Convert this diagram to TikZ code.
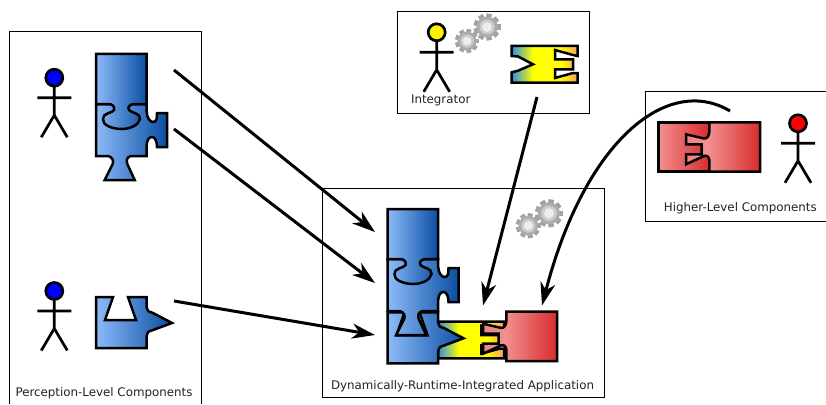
\documentclass[tikz,border=0pt]{standalone}
\usepackage{fontspec}
\setmainfont{DejaVu Sans}
\usetikzlibrary{arrows.meta}
\definecolor{blA}{HTML}{8CBAF8}
\definecolor{blB}{HTML}{0A4EA2}
\definecolor{yeA}{HTML}{2F8EE0}
\definecolor{yeB}{HTML}{FFFF00}
\definecolor{yeC}{HTML}{FAA060}
\definecolor{reA}{HTML}{F29090}
\definecolor{reB}{HTML}{D82C2C}
\definecolor{reE}{HTML}{EE8484}
\definecolor{txt}{HTML}{222222}
\definecolor{gearT}{HTML}{A2A2A2}
\definecolor{gearM}{HTML}{ACACAC}
\definecolor{gearR}{HTML}{CCCCCC}
\definecolor{gearH}{HTML}{EEEEEE}
\pgfdeclarehorizontalshading{bluegrad}{100bp}{color(0bp)=(blA);color(25bp)=(blA);color(75bp)=(blB);color(100bp)=(blB)}
\pgfdeclarehorizontalshading{yelgrad}{100bp}{color(0bp)=(yeA);color(25bp)=(yeA);color(41bp)=(yeB);color(62bp)=(yeB);color(75bp)=(yeC);color(100bp)=(yeC)}
\pgfdeclarehorizontalshading{redgrad}{100bp}{color(0bp)=(reA);color(25bp)=(reA);color(75bp)=(reB);color(100bp)=(reB)}
\pgfdeclarehorizontalshading{redtabgrad}{100bp}{color(0bp)=(reE);color(25bp)=(reE);color(40bp)=(reA);color(75bp)=(reB);color(100bp)=(reB)}
\tikzset{
  piece/.style={draw=black,line width=2.5pt,line join=miter},
  framebox/.style={draw=black,line width=0.9pt,fill=none},
  conn/.style={draw=black,line width=3pt,-{Stealth[length=23pt,width=15pt,inset=7pt]}},
  label/.style={text=txt,font=\fontsize{11.85}{14}\selectfont,inner sep=0pt,anchor=base},
  figline/.style={draw=black,line width=2.7pt},
}
\newcommand\bluetop[1]{\shadedraw[piece,shading=bluegrad,#1] (96,54)--(146.7,54)--(146.7,104)--(135,104)
  .. controls (130,104) and (127,107) .. (129,110) .. controls (131,113) and (141,113) .. (140,119)
  .. controls (139,125) and (130,129) .. (122,129) .. controls (112,129) and (102,125) .. (103,119)
  .. controls (102,113) and (113,113) .. (114,110) .. controls (115,106) and (112,104) .. (108,104)
  --(96,104)--cycle;}
\newcommand\bluemid[1]{\shadedraw[piece,shading=bluegrad,#1] (96,104)--(146.7,104)--(146.7,112)
  .. controls (147,118) and (150,122) .. (153,122) .. controls (157,122) and (157,118) .. (157,113)
  --(167,113)--(167,147)--(157,147) .. controls (157,141) and (155,137) .. (152,137)
  .. controls (149,137) and (147,140) .. (146.7,145)--(146.7,156)--(131,156)
  .. controls (127,157) and (126,160) .. (127.3,164)--(134.7,180)--(104.7,180)--(112.7,164)
  .. controls (114,160) and (112,157) .. (108,156)--(96,156)--cycle;}
\newcommand\bluelow[1]{\shadedraw[piece,shading=bluegrad,#1] (96,297)--(113,297)--(105,320)--(136,320)--(128,297)
  --(146.7,297)--(146.7,307) .. controls (147,311) and (150,313) .. (153,313)--(172,323)--(153,330)
  .. controls (150,330) and (147,332) .. (146.7,336)--(146.7,348)--(96,348)--cycle;}
\newcommand\yelright{--(577.7,46)--(577.7,56)--(573,55)--(555,50)--(555,59.3)--(573,59.3)--(573,69.3)--(555,69.3)--(555,78)--(573,73)--(577.7,73)--(577.7,82.7)--(511.7,82.7)}
\newcommand\redleft[1]{\shadedraw[piece,shading=redgrad,#1] (658.3,122.3) rectangle (709.3,171.7);}
\newcommand\redright[1]{\shadedraw[piece,shading=redtabgrad,#1] (709.3,122.3)--(760,122.3)--(760,171.7)--(709.3,171.7)--(709.3,160)
  .. controls (709,157) and (707,155) .. (704,156)--(686,164.3)--(686,154.3)--(701.7,154.3)--(701.7,144.3)--(686,144.3)--(686,134.3)--(704,138.5)
  .. controls (707,139) and (709,136) .. (709.3,132)--cycle;}
\newcommand\stickfig[3]{\begin{scope}[shift={(#1,#2)}]
  \draw[figline] (0,8.5)--(0,37.5) (-17,20)--(17,20) (-13,59.5)--(0,37.5)--(13,59.5);
  \draw[figline,fill=#3] (0,0) circle[radius=8.5pt];
\end{scope}}
\newcommand\gearshape[3]{\begin{scope}[shift={(#1,#2)}]
  \foreach \a in {0,40,...,320}{\fill[rotate=\a+10,gearT] (-0.2*#3,0) rectangle (0.2*#3,#3);}
  \fill[gearM] (0,0) circle[radius=0.78*#3 pt];
  \fill[gearR] (0,0) circle[radius=0.56*#3 pt];
  \fill[gearH] (0,0) circle[radius=0.36*#3 pt];
\end{scope}}
\begin{document}
\begin{tikzpicture}[x=1pt,y=-1pt]
\useasboundingbox (0,0) rectangle (826,404);
% frames
\draw[framebox] (9,404)--(9,31)--(201,31)--(201,404);
\draw[framebox] (826,91.7)--(645,91.7)--(645,221)--(826,221);
\draw[framebox] (397.7,11.7) rectangle (589,113.3);
\draw[framebox] (322,188) rectangle (604,397);
% perception level
\stickfig{54.3}{77.7}{blue}
\stickfig{54.3}{291}{blue}
\bluemid{}
\bluetop{}
\bluelow{}
% integrator
\stickfig{436.7}{32.3}{yellow}
\gearshape{467}{41}{12}
\gearshape{487}{27}{13.5}
\shadedraw[piece,shading=yelgrad] (511.7,46)\yelright--(511.7,72.3)--(518,70.7)--(533,64.3)--(518,56.5)--(511.7,56)--cycle;
% higher level
\redleft{}
\redright{}
\stickfig{798}{123.3}{red}
% assembled application
\gearshape{528.3}{225.7}{12.5}
\gearshape{549}{213.3}{14}
\shadedraw[piece,shading=yelgrad,shift={(-73.7,275.7)}] (511.7,46)\yelright--cycle;
\bluelow{shift={(291.5,15.3)}}
\bluemid{shift={(291.5,155)}}
\bluetop{shift={(291.5,155)}}
\redright{shift={(-203,189.4)}}
% labels
\node[label] (plabel) at (104,396) {Perception-Level Components};
\node[label] (ilabel) at (440.7,103) {Integrator};
\node[label] (hlabel) at (740.3,211) {Higher-Level Components};
\node[label] (alabel) at (462.5,389) {Dynamically-Runtime-Integrated Application};
% connectors
\coordinate (s1) at (174,70);  \coordinate (t1) at (375,232);
\coordinate (s2) at (174,129); \coordinate (t2) at (375,283);
\coordinate (s3) at (174,301); \coordinate (t3) at (375,335);
\coordinate (s4) at (537,97);  \coordinate (t4) at (483,305.5);
\coordinate (s5) at (730,111); \coordinate (t5) at (542,305.5);
\draw[conn] (s1)--(t1);
\draw[conn] (s2)--(t2);
\draw[conn] (s3)--(t3);
\draw[conn] (s4)--(t4);
\draw[conn] (s5) .. controls (668,74) and (585,140) .. (t5);
\end{tikzpicture}
\end{document}
